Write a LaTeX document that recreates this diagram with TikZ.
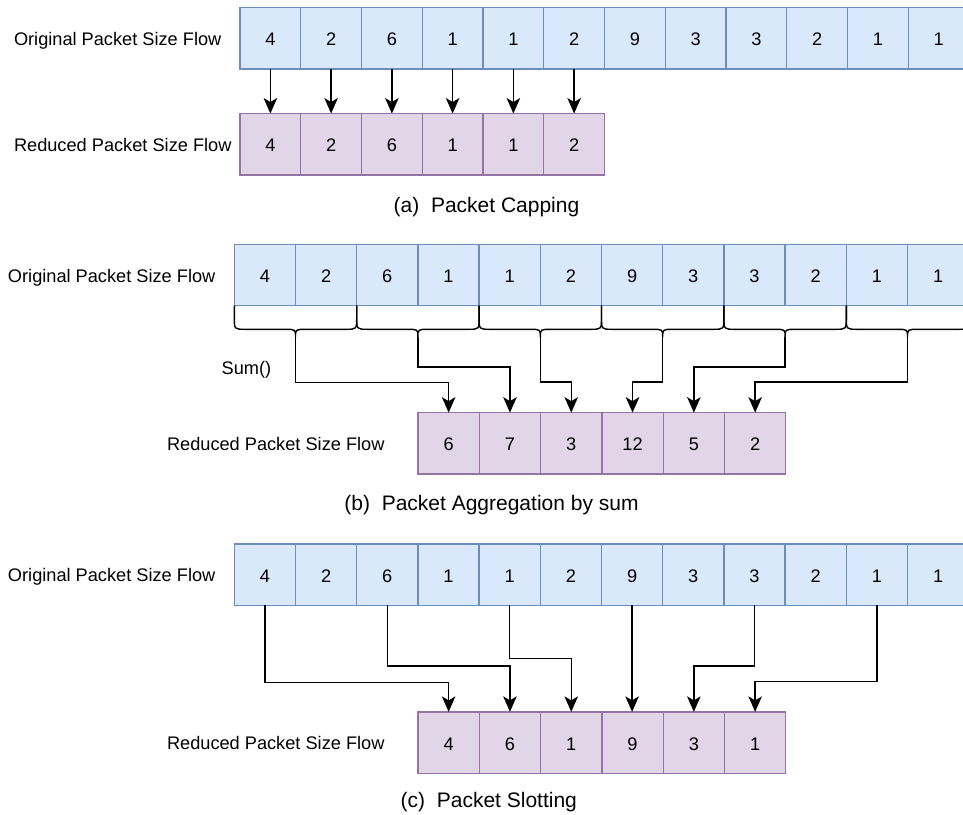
\documentclass[tikz,border=0pt]{standalone}
\usepackage{fontspec}
\setmainfont{Liberation Sans}
\usetikzlibrary{arrows.meta}
\definecolor{blueFill}{HTML}{DAE8FC}
\definecolor{blueLine}{HTML}{6C8EBF}
\definecolor{purpleFill}{HTML}{E1D5E7}
\definecolor{purpleLine}{HTML}{9673A6}

\begin{document}
\begin{tikzpicture}[x=1pt,y=-1pt,
  every node/.style={font=\fontsize{18.2}{22}\selectfont, inner sep=0pt, outer sep=0pt},
  cellbase/.style={line width=1.3pt, minimum height=61.3pt, text height=15pt, text depth=0pt},
  origcell/.style={cellbase, draw=blueLine, fill=blueFill},
  redcell/.style={cellbase, draw=purpleLine, fill=purpleFill},
  rowlabel/.style={anchor=west, text height=13pt, text depth=0pt},
  caption/.style={font=\fontsize{21}{25}\selectfont},
  conn/.style={line width=1.4pt, -{Stealth[length=15.5pt,width=13.5pt,inset=4pt]}},
  bracepath/.style={line width=1.4pt}
]
\useasboundingbox (0,0) rectangle (963,814);
\clip (0,0) rectangle (963,814);

% ---------- (a) Packet capping ----------
\foreach \v [count=\i] in {4,2,6,1,1,2,9,3,3,2,1,1}
  \node[origcell, minimum width=60.75pt] (a\i) at ({240+(\i-0.5)*60.75}, 38.3) {\v};
\foreach \v [count=\i] in {4,2,6,1,1,2}
  \node[redcell, minimum width=60.75pt] (ra\i) at ({240+(\i-0.5)*60.75}, 144.2) {\v};
\foreach \i in {1,...,6}
  \draw[conn] (a\i) -- (ra\i);
\node[rowlabel] (la1) at (14, 38.5) {Original Packet Size Flow};
\node[rowlabel] (la2) at (14, 145) {Reduced Packet Size Flow};
\node[caption] (capa) at (486.5, 207) {(a)\ \ Packet Capping};

% ---------- (b) Packet aggregation by sum ----------
\foreach \v [count=\i] in {4,2,6,1,1,2,9,3,3,2,1,1}
  \node[origcell, minimum width=61.2pt] (b\i) at ({234.3+(\i-0.5)*61.2}, 275) {\v};
\foreach \v [count=\i] in {6,7,3,12,5,2}
  \node[redcell, minimum width=61.3pt] (rb\i) at ({418+(\i-0.5)*61.3}, 443.3) {\v};
% curly braces under each pair of cells
\foreach \k in {1,...,6} {
  \pgfmathsetmacro{\bl}{234.3+(2*\k-2)*61.2}
  \pgfmathsetmacro{\br}{\bl+122.4}
  \pgfmathsetmacro{\bc}{\bl+61.2}
  \draw[bracepath] (\bl,305.7) -- (\bl,317.5)
    .. controls (\bl,329.3) .. ({\bl+11},329.3) -- ({\bc-11},329.3)
    .. controls (\bc,329.3) .. (\bc,337)
    .. controls (\bc,329.3) .. ({\bc+11},329.3) -- ({\br-11},329.3)
    .. controls (\br,329.3) .. (\br,317.5) -- (\br,305.7);
  \coordinate (tip\k) at (\bc,337);
}
\foreach \k/\yy in {1/382.5,2/367,3/382,4/382,5/367,6/382}
  \draw[conn] (tip\k) -- ++(0,{\yy-337}) -| (rb\k.north);
\node[rowlabel] (lb1) at (8, 275.5) {Original Packet Size Flow};
\node[rowlabel] (lb2) at (167, 444) {Reduced Packet Size Flow};
\node[rowlabel] (sum) at (221.7, 368.3) {Sum()};
\node[caption] (capb) at (491.5, 505) {(b)\ \ Packet Aggregation by sum};

% ---------- (c) Packet slotting ----------
\foreach \v [count=\i] in {4,2,6,1,1,2,9,3,3,2,1,1}
  \node[origcell, minimum width=61.2pt] (c\i) at ({234.3+(\i-0.5)*61.2}, 574.5) {\v};
\foreach \v [count=\i] in {4,6,1,9,3,1}
  \node[redcell, minimum width=61.3pt] (rc\i) at ({418+(\i-0.5)*61.3}, 742.5) {\v};
\foreach \s/\t/\yy in {1/1/682.3, 3/2/666, 5/3/658.3, 9/5/666, 11/6/681.7}
  \draw[conn] (c\s.south) -- ++(0,{\yy-605.15}) -| (rc\t.north);
\draw[conn] (c7.south) -- (c7.south |- rc4.north);
\node[rowlabel] (lc1) at (8, 575) {Original Packet Size Flow};
\node[rowlabel] (lc2) at (167, 743) {Reduced Packet Size Flow};
\node[caption] (capc) at (488.8, 802) {(c)\ \ Packet Slotting};
\end{tikzpicture}
\end{document}
